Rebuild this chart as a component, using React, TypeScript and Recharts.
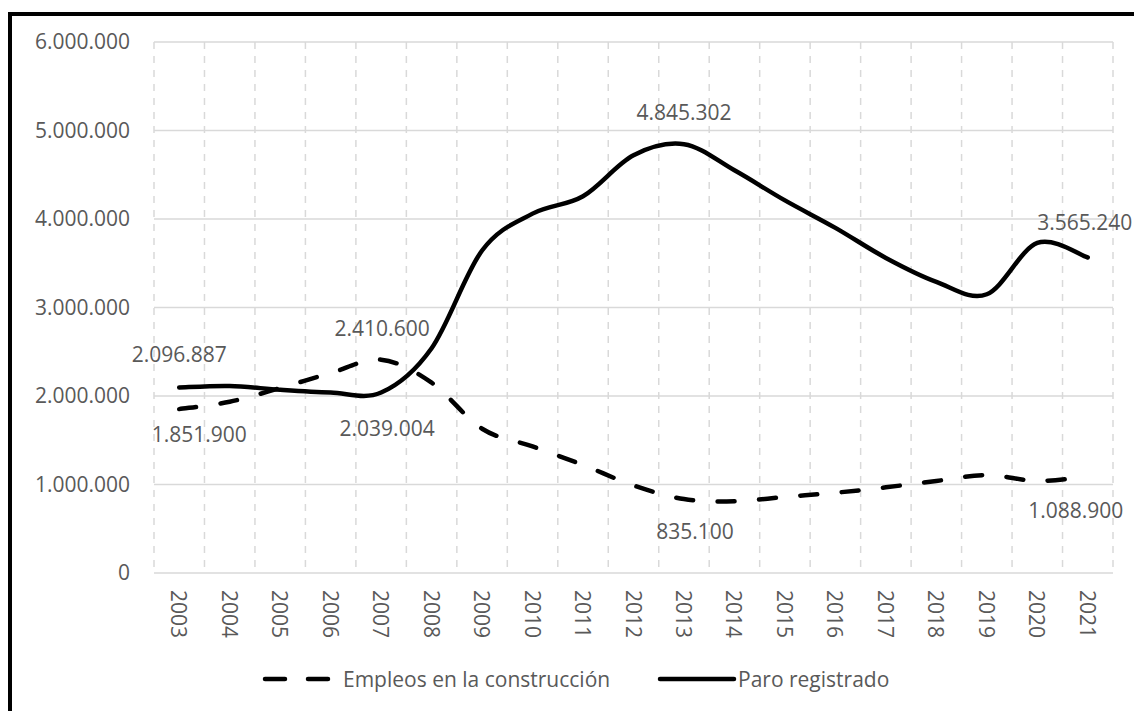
import React from 'react';
import { LineChart, Line, XAxis, YAxis, CartesianGrid } from 'recharts';

const years = ['2003', '2004', '2005', '2006', '2007', '2008', '2009', '2010', '2011', '2012', '2013', '2014', '2015', '2016', '2017', '2018', '2019', '2020', '2021'];
const empleos = [1851900, 1935000, 2090000, 2260000, 2410600, 2150000, 1630000, 1430000, 1220000, 990000, 835100, 810000, 860000, 907000, 968000, 1040000, 1107000, 1040000, 1088900];
const paro = [2096887, 2113718, 2069854, 2039414, 2039004, 2540000, 3644041, 4060756, 4257160, 4720404, 4845302, 4550000, 4210000, 3900000, 3560000, 3290000, 3150000, 3730000, 3565240];
const yTicks = [0, 1000000, 2000000, 3000000, 4000000, 5000000, 6000000];
const empleosLabelYears = ['2003', '2007', '2013', '2021'];
const paroLabelYears = ['2003', '2007', '2013', '2021'];
const seriesNames = ['Empleos en la construcción', 'Paro registrado'];

const data = years.map((y, i) => ({ year: y, empleos: empleos[i], paro: paro[i] }));

// label placement (style only)
const paroLabelOffsets: Record<string, [number, number]> = {
  '2003': [0, -25], '2007': [6, 43], '2013': [0, -24], '2021': [-3, -27],
};
const empleosLabelOffsets: Record<string, [number, number]> = {
  '2003': [20, 33], '2007': [1, -24], '2013': [11, 40], '2021': [-12, 41],
};

const TEXT = '#595959';
const GRID = '#d9d9d9';
const FS = 21;

const fmt = (v: number) => Math.round(v).toString().replace(/\B(?=(\d{3})+(?!\d))/g, '.');

// Excel-like smoothed curve (Catmull-Rom style bezier)
const excelCurve: any = (context: any) => {
  let pts: [number, number][] = [];
  return {
    areaStart() {},
    areaEnd() {},
    lineStart() { pts = []; },
    point(x: number, y: number) { pts.push([+x, +y]); },
    lineEnd() {
      const n = pts.length;
      if (!n) return;
      context.moveTo(pts[0][0], pts[0][1]);
      for (let i = 0; i < n - 1; i++) {
        const p0 = pts[i - 1] || pts[i];
        const p1 = pts[i];
        const p2 = pts[i + 1];
        const p3 = pts[i + 2] || p2;
        const c1x = p1[0] + (p2[0] - p0[0]) / 6;
        const c1y = p1[1] + (p2[1] - p0[1]) / 6;
        const c2x = p2[0] - (p3[0] - p1[0]) / 6;
        const c2y = p2[1] - (p3[1] - p1[1]) / 6;
        context.bezierCurveTo(c1x, c1y, c2x, c2y, p2[0], p2[1]);
      }
    },
  };
};

const makeLabelDot = (labelYears: string[], offsets: Record<string, [number, number]>, prefix: string) => (props: any) => {
  const { cx, cy, index, value } = props;
  const yr = years[index];
  const key = `${prefix}-${index}`;
  if (!labelYears.includes(yr) || cx == null || cy == null) return <g key={key} />;
  const off = offsets[yr] || [0, -20];
  const v = Array.isArray(value) ? value[1] : value;
  return (
    <text key={key} x={cx + off[0]} y={cy + off[1]} textAnchor="middle" fill={TEXT} fontSize={FS}>
      {fmt(v)}
    </text>
  );
};

const XTick = (props: any) => {
  const { x, y, payload } = props;
  const ty = y + 17;
  return (
    <text x={x} y={ty} transform={`rotate(90, ${x}, ${ty})`} textAnchor="start" dominantBaseline="central" fill={TEXT} fontSize={FS}>
      {payload.value}
    </text>
  );
};

export default function App() {
  return (
    <div style={{ position: 'fixed', left: 0, top: 0, width: 1134, height: 711, background: '#fff', fontFamily: "'Open Sans', sans-serif", overflow: 'hidden' }}>
      <div style={{ position: 'absolute', left: 8, top: 12, width: 1126, height: 699, borderLeft: '4px solid #000', borderTop: '4px solid #000', boxSizing: 'border-box' }} />
      <div style={{ position: 'absolute', left: 0, top: 0 }}>
        <LineChart width={1134} height={711} data={data} margin={{ top: 42, right: 21, left: 0, bottom: 58 }}>
          <CartesianGrid horizontal vertical={false} stroke={GRID} strokeWidth={1.5} />
          <CartesianGrid
            horizontal={false}
            vertical
            stroke={GRID}
            strokeWidth={1.5}
            strokeDasharray="7 7"
            verticalCoordinatesGenerator={({ offset }: any) =>
              Array.from({ length: years.length + 1 }, (_, i) => offset.left + (i * offset.width) / years.length)
            }
          />
          <XAxis dataKey="year" scale="band" interval={0} axisLine={false} tickLine={false} tickSize={0} tickMargin={0} height={80} tick={<XTick />} />
          <YAxis
            domain={[0, 6000000]}
            ticks={yTicks}
            tickFormatter={fmt}
            axisLine={false}
            tickLine={false}
            tickSize={0}
            tickMargin={24}
            width={154}
            tick={{ fill: TEXT, fontSize: FS }}
          />
          <Line
            type={excelCurve}
            dataKey="empleos"
            name={seriesNames[0]}
            stroke="#000"
            strokeWidth={4.5}
            strokeDasharray="17 24.5"
            strokeLinecap="round"
            isAnimationActive={false}
            dot={makeLabelDot(empleosLabelYears, empleosLabelOffsets, 'e')}
            activeDot={false}
          />
          <Line
            type={excelCurve}
            dataKey="paro"
            name={seriesNames[1]}
            stroke="#000"
            strokeWidth={4.5}
            strokeLinecap="round"
            strokeLinejoin="round"
            isAnimationActive={false}
            dot={makeLabelDot(paroLabelYears, paroLabelOffsets, 'p')}
            activeDot={false}
          />
        </LineChart>
      </div>
      <svg style={{ position: 'absolute', left: 0, top: 665 }} width={1134} height={30}>
        <line x1={265} y1={14} x2={328} y2={14} stroke="#000" strokeWidth={4.5} strokeDasharray="20 23" strokeLinecap="round" />
        <text x={343} y={14} dominantBaseline="central" fill={TEXT} fontSize={FS}>{seriesNames[0]}</text>
        <line x1={660} y1={14} x2={734} y2={14} stroke="#000" strokeWidth={4.5} strokeLinecap="round" />
        <text x={738} y={14} dominantBaseline="central" fill={TEXT} fontSize={FS}>{seriesNames[1]}</text>
      </svg>
    </div>
  );
}
